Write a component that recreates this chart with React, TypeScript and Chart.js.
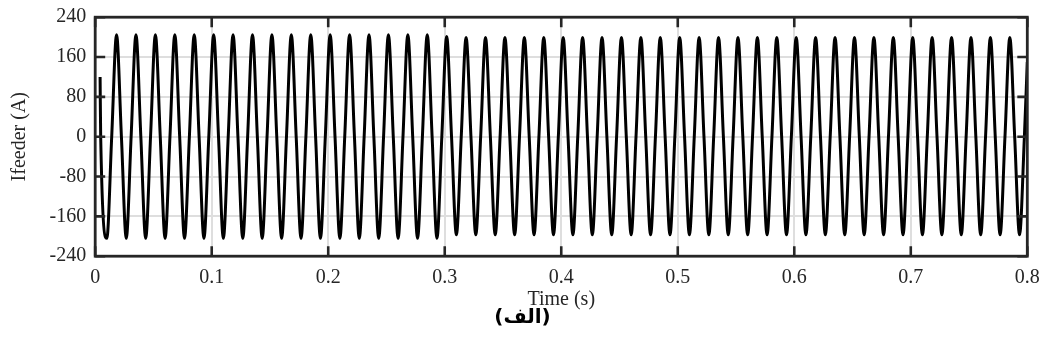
import React, { useEffect, useRef } from "react";
import { Chart, registerables } from "chart.js";

Chart.register(...registerables);

// ---- data ----
const xTickValues = [0, 0.1, 0.2, 0.3, 0.4, 0.5, 0.6, 0.7, 0.8];
const xTickLabels = ["0", "0.1", "0.2", "0.3", "0.4", "0.5", "0.6", "0.7", "0.8"];
const yTickValues = [-240, -160, -80, 0, 80, 160, 240];
const yTickLabels = ["-240", "-160", "-80", "0", "80", "160", "240"];
const captionText = "(الف)";

// initial transient sample (time s, current A)
const startTimes = [0.0042, 0.0047];
const startValues = [120, 0];

// negative half-cycle extremes (troughs), in order
const troughValues = [
  -204, -204, -204, -204, -204, -204, -204, -204, -204, -204,
  -204, -204, -204, -204, -204, -204, -204, -204,
  -197, -197, -197, -197, -197, -197, -197, -197, -197, -197,
  -197, -197, -197, -197, -197, -197, -197, -197, -197, -197,
  -197, -197, -197, -197, -197, -197, -197, -197, -197, -197,
];
// positive half-cycle extremes (peaks), in order
const peakValues = [
  205, 205, 205, 205, 205, 205, 205, 205, 205, 205,
  205, 205, 205, 205, 205, 205, 205, 201, 199, 199,
  199, 199, 199, 199, 199, 199, 199, 199, 199, 199,
  199, 199, 199, 199, 199, 199, 199, 199, 199, 199,
  199, 199, 199, 199, 199, 199, 199,
];
const FIRST_TROUGH_TIME = 0.01; // s
const HALF_PERIOD = 1 / 120; // 60 Hz
const endTime = 0.8;
const endValue = 150;

function buildSeries() {
  const pts: { x: number; y: number }[] = [];
  startTimes.forEach((t, i) => pts.push({ x: t, y: startValues[i] }));
  const n = troughValues.length + peakValues.length;
  let lastT = 0;
  for (let i = 0; i < n; i++) {
    const t = FIRST_TROUGH_TIME + i * HALF_PERIOD;
    const v = i % 2 === 0 ? troughValues[i / 2] : peakValues[(i - 1) / 2];
    if (i > 0) pts.push({ x: t - HALF_PERIOD / 2, y: 0 });
    pts.push({ x: t, y: v });
    lastT = t;
  }
  pts.push({ x: lastT + HALF_PERIOD / 2, y: 0 });
  pts.push({ x: endTime, y: endValue });
  return pts;
}

const TEXT = "#262626";
const SERIF = "'Liberation Serif', 'Times New Roman', serif";

const framePlugin = {
  id: "frameTicks",
  afterDatasetsDraw(chart: any) {
    const { ctx, chartArea, scales } = chart;
    const { left, right, top, bottom } = chartArea;
    ctx.save();
    ctx.strokeStyle = TEXT;
    ctx.lineWidth = 2.6;
    ctx.lineCap = "butt";
    const len = 10;
    ctx.beginPath();
    xTickValues.forEach((v) => {
      const px = scales.x.getPixelForValue(v);
      ctx.moveTo(px, bottom);
      ctx.lineTo(px, bottom - len);
      ctx.moveTo(px, top);
      ctx.lineTo(px, top + len);
    });
    yTickValues.forEach((v) => {
      const py = scales.y.getPixelForValue(v);
      ctx.moveTo(left, py);
      ctx.lineTo(left + len, py);
      ctx.moveTo(right, py);
      ctx.lineTo(right - len, py);
    });
    ctx.stroke();
    ctx.lineWidth = 2.8;
    ctx.strokeRect(left, top, right - left, bottom - top);
    ctx.restore();
  },
};

const captionPlugin = {
  id: "caption",
  afterDraw(chart: any) {
    const { ctx } = chart;
    ctx.save();
    ctx.fillStyle = "#000000";
    ctx.font = "bold 20px 'DejaVu Sans', sans-serif";
    ctx.textAlign = "center";
    ctx.textBaseline = "middle";
    ctx.fillText(captionText, chart.width / 2, 318);
    ctx.restore();
  },
};

export default function App() {
  const ref = useRef<HTMLCanvasElement | null>(null);
  useEffect(() => {
    if (!ref.current) return;
    const chart = new Chart(ref.current, {
      type: "line",
      data: {
        datasets: [
          {
            label: "Ifeeder",
            data: buildSeries(),
            borderColor: "#000000",
            borderWidth: 3,
            pointRadius: 0,
            fill: false,
            cubicInterpolationMode: "monotone",
          },
        ],
      },
      options: {
        animation: false,
        responsive: true,
        maintainAspectRatio: false,
        layout: { autoPadding: false, padding: { left: 0, right: 17.7, top: 17.2, bottom: 37.3 } },
        plugins: {
          legend: { display: false },
          tooltip: { enabled: false },
          title: { display: false },
        },
        scales: {
          x: {
            type: "linear",
            min: 0,
            max: 0.8,
            afterBuildTicks: (s: any) => {
              s.ticks = xTickValues.map((v) => ({ value: v }));
            },
            afterFit: (s: any) => {
              s.height = 55.5;
              s.paddingLeft = 0;
              s.paddingRight = 0;
            },
            ticks: {
              autoSkip: false,
              maxRotation: 0,
              padding: 10,
              color: TEXT,
              font: { family: SERIF, size: 20 },
              callback: (v: any) => {
                const i = xTickValues.findIndex((t) => Math.abs(t - Number(v)) < 1e-9);
                return i >= 0 ? xTickLabels[i] : "";
              },
            },
            grid: { color: "#dedede", lineWidth: 2, drawTicks: false },
            border: { display: false },
            title: {
              display: true,
              text: "Time (s)",
              color: TEXT,
              font: { family: SERIF, size: 20, lineHeight: 1.2 },
              padding: { top: 0, bottom: 0 },
            },
          },
          y: {
            type: "linear",
            min: -240,
            max: 240,
            afterBuildTicks: (s: any) => {
              s.ticks = yTickValues.map((v) => ({ value: v }));
            },
            afterFit: (s: any) => {
              s.width = 95.2;
              s.paddingTop = 0;
              s.paddingBottom = 0;
            },
            ticks: {
              padding: 9,
              color: TEXT,
              font: { family: SERIF, size: 20 },
              callback: (v: any) => {
                const i = yTickValues.indexOf(Number(v));
                return i >= 0 ? yTickLabels[i] : "";
              },
            },
            grid: { color: "#dedede", lineWidth: 2, drawTicks: false },
            border: { display: false },
            title: {
              display: true,
              text: "Ifeeder (A)",
              color: TEXT,
              font: { family: SERIF, size: 20, lineHeight: 1.2 },
              padding: { top: 8, bottom: 0 },
            },
          },
        },
      },
      plugins: [framePlugin, captionPlugin],
    } as any);
    return () => chart.destroy();
  }, []);
  return (
    <div style={{ position: "absolute", left: 0, top: 0, width: 1045, height: 349, background: "#fff" }}>
      <canvas ref={ref} />
    </div>
  );
}
